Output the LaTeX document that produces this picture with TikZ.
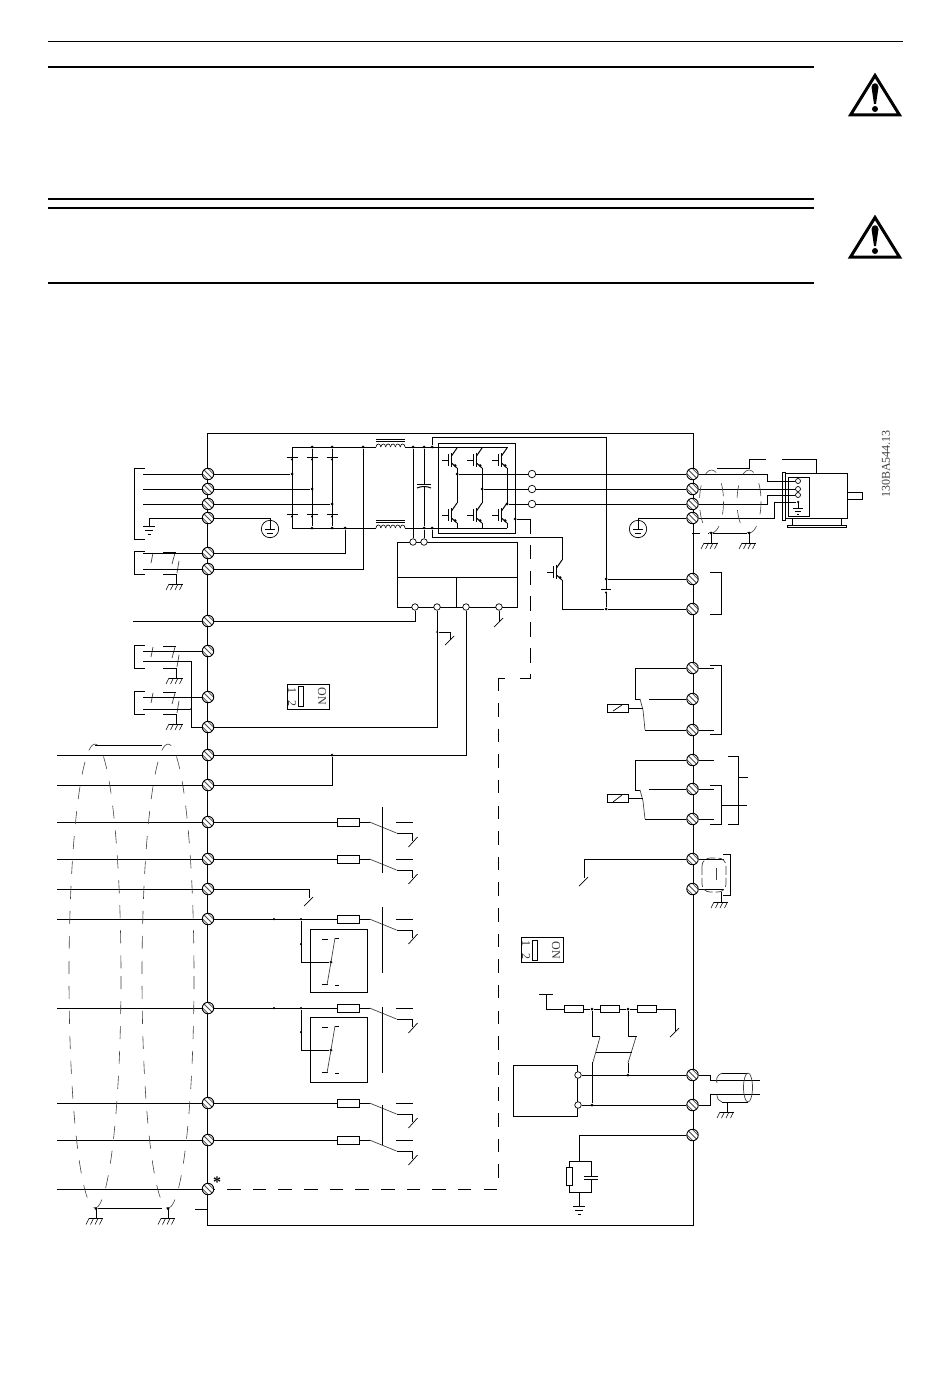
\documentclass[tikz,border=0pt]{standalone}
\usepackage{fontspec}
\setmainfont{Liberation Serif}
\begin{document}
\begin{tikzpicture}[x=1pt,y=-1pt,line width=1pt]
    % Define basic styles and symbols
    \tikzset{
        term/.style={
            circle, draw, fill=white, minimum size=11.5pt, inner sep=0pt, line width=0.9pt,
            path picture={
                \foreach \d in {-2.7,0,2.7}
                    \draw[black!70, line width=0.8pt]
                        ([shift={(-7+\d,-7-\d)}]path picture bounding box.center) --
                        ([shift={(7+\d,7-\d)}]path picture bounding box.center);
            }
        },
        dot/.style={circle, fill=black, minimum size=3pt, inner sep=0pt},
        ring/.style={circle, draw, fill=white, minimum size=6.5pt, inner sep=0pt, line width=0.7pt},
        fuse/.style={rectangle, draw, fill=white, minimum width=22pt, minimum height=8pt, inner sep=0pt},
        box/.style={rectangle, draw, inner sep=0pt},
        thinwire/.style={line width=0.7pt, black!75},
        shield/.style={line width=0.6pt, black!75, dash pattern=on 13pt off 12pt},
        lab/.style={font=\fontsize{12}{12}\selectfont, black!80, rotate=-90, inner sep=0pt},
        chassis/.pic={
            \draw (0,0) -- (0,10);
            \draw[line width=0.7pt] (-7,10) -- (7,10);
            \foreach \h in {-7,-2.5,2,6.5}
                \draw[line width=0.5pt] (\h,10) -- (\h-3,16);
        },
        earth/.pic={
            \draw (0,0) -- (0,8);
            \draw (-6,8) -- (6,8);
            \draw (-4,12) -- (4,12);
            \draw (-1.5,16) -- (1.5,16);
        },
        earthring/.pic={
            \draw[line width=0.7pt] (0,0) circle (8.7);
            \draw (-5,0) -- (5,0);
            \draw (-3,4) -- (3,4);
            \draw (-1,8) -- (1,8);
        },
        diode/.pic={
            \draw (-5.5,0) -- (5.5,0);
            \fill (0,2.5) circle (1.1);
        },
        igbt/.pic={
            \draw (-15,0) -- (-9,0);
            \draw (-9,-6) -- (-9,6);
            \draw (-5.5,-7) -- (-5.5,7);
            \draw (-5.5,-4) -- (0,-12);
            \draw (-5.5,3) -- (0,8);
            \fill (-2,5.5) circle (1.5);
        },
        choke/.pic={
            \foreach \c in {0,4.85,...,25}
                \draw[line width=0.6pt] (\c,0) .. controls (\c+0.3,-4) and (\c+4.5,-4) .. (\c+4.85,0);
            \draw (0,-8) -- (29,-8);
            \draw (0,-6) -- (29,-6);
        },
        opentip/.pic={
            \draw[line width=0.7pt] (-5,5) -- (4,-4);
        },
        fusecontact/.pic={
            \draw (0,0) -- (10,0);
            \draw[thinwire] (10,0) -- (37,11);
            \draw (37,11) -- (53,11) -- (53,19);
            \draw[line width=0.7pt] (49,25) -- (58,15);
            \draw (36,0) -- (53,0);
        },
        boxcontact/.pic={
            \draw[line width=0.7pt] (12,10) -- (18,10);
            \draw[line width=0.7pt] (25,9) -- (29,9);
            \draw[line width=0.7pt] (12,55) -- (18,55);
            \draw[line width=0.7pt] (25,56) -- (29,56);
            \draw[thinwire] (25,9) -- (21,33) -- (17,56);
        },
        shieldloop/.pic={
            \draw (11,0) -- (0,0) -- (0,23) -- (11,23);
            \draw (29,1) -- (42,1);
            \draw (29,23) -- (43,23);
            \draw[thinwire] (19,2) -- (17,12);
            \draw[thinwire] (41,2) -- (38,13);
            \draw[thinwire] (45,10) -- (43,22);
            \pic at (42,23) {chassis};
        },
        dipswitch/.pic={
            \node[box, minimum width=42pt, minimum height=25pt] (-frame) at (0,0) {};
            \node[box, minimum width=5pt, minimum height=20pt, line width=0.7pt] (-slider) at (-7.5,0) {};
            \node[lab] (-one) at (-16,-6.5) {1};
            \node[lab] (-two) at (-16,6.5) {2};
            \node[lab] (-on) at (14,0) {ON};
        },
        warnsign/.pic={
            \draw[line width=3pt, line join=miter] (0,3.5) -- (24.5,43) -- (-24.5,43) -- cycle;
            \fill (-3.5,15) .. controls (-3,10) and (3,10) .. (3.5,15) -- (1,32) -- (-1,32) -- cycle;
            \fill (0,37) circle (3);
        }
    }
    \useasboundingbox (0,0) rectangle (950,1383);

    % Page rules and warning signs
    \draw[line width=0.7pt] (48,41) -- (903,41);
    \draw[line width=1.5pt] (48,67) -- (814,67);
    \draw[line width=1.5pt] (48,199) -- (814,199);
    \draw[line width=1.5pt] (48,208) -- (814,208);
    \draw[line width=1.5pt] (48,283) -- (814,283);
    \pic at (875,72) {warnsign};
    \pic at (875,214) {warnsign};
    \node[font=\fontsize{12}{12}\selectfont, black!75, rotate=90, inner sep=0pt] (partno) at (886,464) {130BA544.13};

    % Drive enclosure
    \node[box, minimum width=486pt, minimum height=792pt] (frame) at (450,829) {};

    % Left terminals
    \foreach \name/\y in {l1/474,l2/489,l3/504,l4/518,l5/553,l6/569,l7/621,l8/651,l9/697,l10/727,
        l11/755,l12/785,l13/822,l14/859,l15/889,l16/919,l17/1008,l18/1103,l19/1140,l20/1189}
        \node[term] (\name) at (208,\y) {};

    % Right terminals
    \foreach \name/\y in {r1/474,r2/489,r3/504,r4/518,r5/579,r6/609,r7/668,r8/699,r9/730,r10/760,
        r11/789,r12/819,r13/859,r14/889,r15/1075,r16/1105,r17/1135}
        \node[term] (\name) at (692.5,\y) {};

    % Mains input
    \draw (145,468) -- (134,468) -- (134,539) -- (145,539);
    \foreach \t in {l1,l2,l3}
        \draw (\t.west) -- ++(-59,0);
    \draw (l4) -- (149,518);
    \pic at (149,518) {earth};
    \node[circle, minimum size=17.4pt, inner sep=0pt] (pe1) at (270,529) {};
    \pic at (270,529) {earthring};
    \draw (l4) -| (pe1.center);
    \pic at (134,551) {shieldloop};
    \draw (l5.west) -- ++(-59,0);
    \draw (l6.west) -- ++(-59,0);

    % Rectifier
    \node[dot] (ra) at (292,474) {};
    \node[dot] (rb) at (312,489) {};
    \node[dot] (rc) at (332,504) {};
    \draw (l1) -- (ra);
    \draw (l2) -- (rb);
    \draw (l3) -- (rc);
    \foreach \name/\x in {tp1/312,tp2/332,tp3/363,tp4/413,tp5/424,tp6/432}
        \node[dot] (\name) at (\x,447) {};
    \foreach \name/\x in {bt1/312,bt2/332,bt3/345,bt4/424,bt5/432}
        \node[dot] (\name) at (\x,528) {};
    \coordinate (tleft) at (292,447);
    \coordinate (bleft) at (292,528);
    \draw (bleft) -- (tleft) -- (tp3);
    \draw (tleft) -- (376,447);
    \draw (bleft) -- (376,528);
    \draw (tp1) -- (bt1);
    \draw (tp2) -- (bt2);
    \foreach \x in {292,312,332} {
        \pic at (\x,457) {diode};
        \pic at (\x,514) {diode};
    }
    \pic at (376,447) {choke};
    \pic at (376,528) {choke};
    \draw (l5) -| (bt3);
    \draw (l6) -| (tp3);

    % DC link
    \draw (405,447) -- (507,447);
    \draw (405,528) -- (507,528);
    \node[box, minimum width=77pt, minimum height=90pt] (invframe) at (476.5,488) {};
    \node[box, minimum width=120pt, minimum height=65pt] (ctrl) at (457,574.5) {};
    \draw (397,577) -- (517,577);
    \draw (456,577) -- (456,607);
    \foreach \name/\x/\y in {ct1/413/542,ct2/424/542,ct3/415/607,ct4/437/607,ct5/466/607,ct6/499/607}
        \node[ring] (\name) at (\x,\y) {};
    \draw (tp4) -- (ct1);
    \draw (tp5) -- (424,484);
    \draw (417,484) -- (431,484);
    \draw (417,488) .. controls (421,486) and (427,486) .. (431,488);
    \draw (424,487) -- (bt4);
    \draw (bt4) -- (ct2);
    \node[dot] (brk1) at (606,579) {};
    \node[dot] (brk2) at (606,609) {};
    \draw (tp6) |- (606,437) -- (606,589);
    \draw (601,589) -- (611,589);
    \fill (606,592.5) circle (1.2);
    \draw (606,593) -- (brk2);
    \draw (bt5) |- (562,537) -- (562,560);
    \pic at (562,572) {igbt};
    \draw (562,580) -- (562,609) -- (brk2);
    \draw (brk1) -- (r5);
    \draw (brk2) -- (r6);
    \draw (710,572) -- (721,572) -- (721,614) -- (710,614);

    % Inverter
    \foreach \x in {457,482,507} {
        \pic at (\x,460) {igbt};
        \pic at (\x,515) {igbt};
        \draw (\x,447) -- (\x,448);
        \draw (\x,468) -- (\x,503);
        \draw (\x,523) -- (\x,528);
    }
    \foreach \name/\x/\y in {oa/457/474,ob/482/489,oc/507/504}
        \node[dot] (\name) at (\x,\y) {};
    \foreach \name/\y in {ra1/474,ra2/489,ra3/504}
        \node[ring, minimum size=7.5pt] (\name) at (532,\y) {};
    \draw (oa) -- (ra1);
    \draw (ob) -- (ra2);
    \draw (oc) -- (ra3);
    \draw (ra1) -- (r1);
    \draw (ra2) -- (r2);
    \draw (ra3) -- (r3);

    % Safe stop bus
    \node[dot] (invout) at (515,519) {};
    \coordinate (busa) at (530,519);
    \coordinate (busb) at (530,678);
    \coordinate (busc) at (517,678);
    \coordinate (busd) at (505,678);
    \coordinate (buse) at (498,678);
    \coordinate (busf) at (498,691);
    \coordinate (busg) at (498,703);
    \coordinate (bush) at (498,1189);
    \draw (invout) -- (busa);
    \draw[dash pattern=on 14.5pt off 11.3pt] (busa) -- (busb) -- (busc);
    \draw (busd) -- (buse) -- (busf);
    \draw[dash pattern=on 13.5pt off 12.13pt] (busg) -- (bush) -- (l20);
    \node[font=\fontsize{16}{16}\selectfont\bfseries, inner sep=0pt] (star) at (217,1182) {*};

    % Motor and its cable
    \node[box, minimum width=62pt, minimum height=45pt] (motor) at (816,495.5) {};
    \node[box, minimum width=21pt, minimum height=39pt, line width=0.7pt] (motorbox) at (798.5,496.5) {};
    \node[box, minimum width=3pt, minimum height=48pt] (motorflange) at (783.5,496) {};
    \node[box, minimum width=15pt, minimum height=7pt] (shaft) at (854.5,495.5) {};
    \node[box, minimum width=59pt, minimum height=2pt] (motorbase) at (816.5,526) {};
    \draw (792,518) -- (792,525);
    \draw (841,518) -- (841,525);
    \node[ring, minimum size=5pt] (mu) at (798,481) {};
    \node[ring, minimum size=5pt] (mv) at (798,489) {};
    \node[ring, minimum size=5pt] (mw) at (798,495) {};
    \node[dot, minimum size=2.5pt] (mpe) at (798,502) {};
    \draw (r1) -- (767,474) -- (767,481) -- (mu);
    \draw (r2) -- (mv);
    \draw (r3) -- (767,504) -- (767,495) -- (mw);
    \draw (r4) -- (774,518) -- (774,502) -- (mpe);
    \pic[scale=0.8] at (798,502) {earth};
    \draw (717,468) -- (749,468) -- (749,459) -- (766,459);
    \draw (782,459) -- (816,459) -- (816,473);
    \draw[shield] (711.5,501.5) ellipse (12 and 31.5);
    \draw[shield] (749,501.5) ellipse (12 and 31.5);
    \draw (692,533) -- (700,533);
    \node[dot] (mg1) at (711,533) {};
    \node[dot] (mg2) at (749,533) {};
    \draw (708,533) -- (mg1) -- (mg2);
    \pic at (711,533) {chassis};
    \pic at (749,533) {chassis};

    % Signal wiring on the left
    \draw (l7.west) -- ++(-69,0);
    \draw (l7) -| (ct3);
    \pic at (134,645) {shieldloop};
    \pic at (134,691) {shieldloop};
    \draw (l8.west) -- ++(-59,0);
    \draw (l9.west) -- ++(-59,0);
    \coordinate (cm1) at (143,661);
    \coordinate (cm2) at (191,661);
    \coordinate (cm3) at (143,709);
    \node[dot, minimum size=2pt] (cm4) at (191,709) {};
    \draw (cm1) -- (cm2) |- (l10);
    \draw (cm3) -- (cm4);
    \draw (l10) -| (ct4);
    \draw (l11) -| (ct5);
    \node[dot] (l12tap) at (332,755) {};
    \draw (l12) -| (l12tap);
    \draw (ct6) -- (499,622);
    \pic at (499,622) {opentip};
    \node[dot, minimum size=2pt] (tap437) at (437,632) {};
    \draw (tap437) -- (450,632) -- (450,640);
    \pic at (450,640) {opentip};

    % Digital input switch
    \pic (swa) at (308,696.5) {dipswitch};

    % Digital inputs with fuses
    \foreach \t in {l11,l12,l13,l14,l15,l16,l17,l18,l19,l20}
        \draw (\t.west) -- ++(-145,0);
    \node[fuse] (fa) at (348,822) {};
    \node[fuse] (fb) at (348,859) {};
    \node[fuse] (fc) at (348,919) {};
    \node[fuse] (fd) at (348,1008) {};
    \node[fuse] (fe) at (348,1103) {};
    \node[fuse] (ff) at (348,1140) {};
    \draw (l13) -- (fa);
    \draw (l14) -- (fb);
    \draw (l16) -- (fc);
    \draw (l17) -- (fd);
    \draw (l18) -- (fe);
    \draw (l19) -- (ff);
    \foreach \f in {fa,fb,fc,fd,fe,ff}
        \pic at (\f.east) {fusecontact};
    \draw (382,807) -- (382,873);
    \draw (382,907) -- (382,973);
    \draw (382,1007) -- (382,1073);
    \draw (382,1105) -- (382,1145);
    \draw (l15) -- (309,889) -- (309,898);
    \pic at (309,901) {opentip};

    % Safe inputs with relay boxes
    \node[dot, minimum size=2.5pt] (fc1) at (274,919) {};
    \node[dot, minimum size=2.5pt] (fc2) at (301,919) {};
    \node[dot, minimum size=2.5pt] (fc3) at (301,944) {};
    \node[box, minimum width=57pt, minimum height=63pt] (relaya) at (338.5,960.5) {};
    \node[dot] (relaya1) at (331,962) {};
    \pic at (310,929) {boxcontact};
    \draw (fc2) |- (relaya1);
    \node[dot, minimum size=2.5pt] (fd1) at (274,1008) {};
    \node[dot, minimum size=2.5pt] (fd2) at (301,1008) {};
    \node[dot, minimum size=2.5pt] (fd3) at (301,1032) {};
    \node[box, minimum width=57pt, minimum height=65pt] (relayb) at (338.5,1049.5) {};
    \node[dot] (relayb1) at (331,1050) {};
    \pic at (310,1017) {boxcontact};
    \draw (fd2) |- (relayb1);

    % Left cable shields
    \draw[shield] (95,976) ellipse (26 and 232);
    \draw[shield] (168,976) ellipse (26 and 232);
    \draw[line width=0.7pt] (95,745) -- (162,745);
    \node[dot] (sg1) at (96,1208.5) {};
    \node[dot] (sg2) at (168,1208.5) {};
    \draw (sg1) -- (162,1208.5);
    \draw (195,1209) -- (207,1209);
    \pic at (96,1208.5) {chassis};
    \pic at (168,1208.5) {chassis};

    % Relays
    \draw (r7) -- (635,668) -- (635,699) -- (640,699);
    \draw[thinwire] (640,699) -- (643,710) -- (645,730);
    \draw (645,730) -- (r9);
    \draw (r8) -- (649,699);
    \node[box, minimum width=21pt, minimum height=8pt] (coila) at (617.5,708) {};
    \draw[line width=0.7pt] (613,711) -- (622,705);
    \draw (coila) -- (643,708);
    \draw (r10) -- (635,760) -- (635,790) -- (640,790);
    \draw[thinwire] (640,790) -- (643,801) -- (645,819);
    \draw (645,819) -- (r12);
    \draw (r11) -- (649,789);
    \node[box, minimum width=21pt, minimum height=8pt] (coilb) at (617.5,798.5) {};
    \draw[line width=0.7pt] (613,802) -- (622,795);
    \draw (coilb) -- (643,798.5);
    \foreach \t in {r7,r9,r10,r11,r12}
        \draw (\t.east) -- ++(15,0);
    \draw (710,665) -- (721,665) -- (721,734) -- (710,734);
    \draw (728,756) -- (738,756) -- (738,824) -- (728,824);
    \draw (738,777) -- (748,777);
    \draw (710,785) -- (721,785) -- (721,824) -- (710,824);
    \draw (721,805) -- (747,805);

    % Shielded pair
    \draw (r13) -- (584,859) -- (584,878);
    \pic at (584,881) {opentip};
    \draw (r13.east) -- ++(25,0);
    \draw (r14.east) -- ++(25,0);
    \draw[thinwire, rounded corners=8pt, dash pattern=on 9pt off 3pt] (702,858) rectangle (726,892);
    \draw[thinwire] (716,868) -- (716,880);
    \draw (723,854) -- (730,854) -- (730,895) -- (723,895);
    \pic at (721,892) {chassis};

    % Analog section
    \pic (swb) at (542,950) {dipswitch};
    \coordinate (vsup) at (546,1009);
    \draw (539,994) -- (553,994);
    \node[fuse, minimum width=19pt, minimum height=6.5pt] (ra4) at (573.5,1009) {};
    \node[fuse, minimum width=19pt, minimum height=6.5pt] (rb4) at (610,1009) {};
    \node[fuse, minimum width=19pt, minimum height=6.5pt] (rc4) at (646.5,1009) {};
    \node[dot] (rab) at (592,1009) {};
    \node[dot] (rbc) at (628,1009) {};
    \draw (546,994) -- (vsup) -- (ra4);
    \draw (ra4) -- (rab) -- (rb4);
    \draw (rb4) -- (rbc) -- (rc4);
    \draw (rc4) -| (675,1031);
    \pic at (675,1032) {opentip};
    \node[box, minimum width=64pt, minimum height=51pt] (iface) at (545,1090.5) {};
    \node[ring] (ifa) at (578,1075) {};
    \node[ring] (ifb) at (578,1105) {};
    \draw (ifa) -- (r15);
    \draw (ifb) -- (r16);
    \node[dot] (ifa1) at (628,1075) {};
    \node[dot] (ifb1) at (592,1105) {};
    \draw (rab) -- (592,1036) -- (600,1036);
    \draw (rbc) -- (628,1036) -- (637,1036);
    \draw[thinwire] (600,1037) -- (593,1062);
    \draw[thinwire] (636,1037) -- (628,1063);
    \draw (596,1052) -- (632,1052);
    \draw (592,1062) -- (ifb1);
    \draw (628,1063) -- (ifa1);

    % Analog cable
    \draw (r15) -- (710,1075) -- (710,1080) -- (760,1080);
    \draw (r16) -- (710,1105) -- (710,1094) -- (760,1094);
    \draw (722,1073) -- (748,1073);
    \draw (722,1102) -- (748,1102);
    \draw[thinwire] (722,1073) .. controls (716,1075) and (716,1081) .. (717,1083);
    \draw[thinwire] (717,1095) .. controls (717,1099) and (719,1101) .. (722,1102);
    \draw[thinwire] (748,1087.5) ellipse (4.5 and 14.5);
    \pic at (727,1102) {chassis};

    % RC network
    \coordinate (rctop) at (579,1161);
    \coordinate (rcbot) at (579,1192);
    \draw (r17) -| (rctop);
    \node[box, fill=white, minimum width=6pt, minimum height=18pt] (rcres) at (569,1176) {};
    \draw (rctop) -- (569,1161) -- (rcres);
    \draw (rcres) -- (569,1192) -- (rcbot);
    \draw (rctop) -- (591,1161) -- (591,1176);
    \draw (rcbot) -- (591,1192) -- (591,1179.5);
    \draw (584,1176) -- (598,1176);
    \draw (584,1179.5) -- (598,1179.5);
    \draw (rcbot) -- (579,1198);
    \pic at (579,1198) {earth};

    % Right earth point
    \node[circle, minimum size=17.4pt, inner sep=0pt] (pe2) at (638,529) {};
    \pic at (638,529) {earthring};
    \draw (r4) -| (pe2.center);
\end{tikzpicture}
\end{document}
